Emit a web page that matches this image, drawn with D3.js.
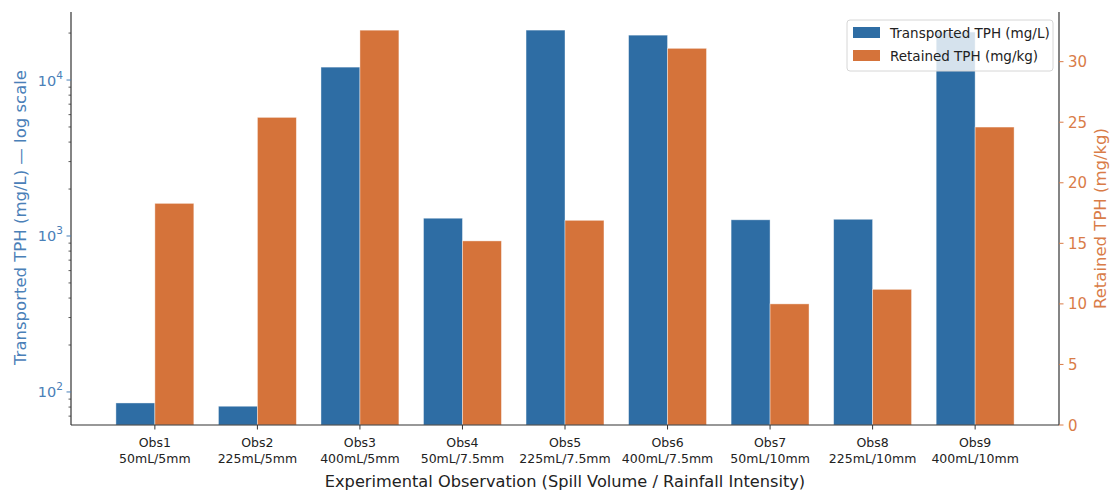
<!DOCTYPE html>
<html lang="en">
<head>
<meta charset="UTF-8">
<script src="https://d3js.org/d3.v7.min.js"></script>
<title>TPH chart</title>
<style>
  body { margin: 0; background: #fff; }
  text { font-family: "DejaVu Sans", sans-serif; }
</style>
</head>
<body>
<svg id="chart" width="1113" height="492"></svg>
<script>
// data
const obsNames = ["Obs1","Obs2","Obs3","Obs4","Obs5","Obs6","Obs7","Obs8","Obs9"];
const conditions = ["50mL/5mm","225mL/5mm","400mL/5mm","50mL/7.5mm","225mL/7.5mm","400mL/7.5mm","50mL/10mm","225mL/10mm","400mL/10mm"];
const transported = [85, 81, 12100, 1300, 20900, 19400, 1270, 1280, 20300];
const retained = [18.3, 25.4, 32.6, 15.2, 16.9, 31.1, 10.0, 11.2, 24.6];
const rightTicks = [0, 5, 10, 15, 20, 25, 30];
const leftMajor = [100, 1000, 10000];

const blue = "#2e6da4", orange = "#d5733a";
const blueTxt = "#4a80b8", orangeTxt = "#d97c48";

const svg = d3.select("#chart");
const L = 71, R = 1059, T = 12, B = 425;
const barW = 0.38;

const x = d3.scaleLinear().domain([-0.818, 8.818]).range([L, R]);
const yL = d3.scaleLog().domain([61.4, 27300]).range([B, T]);
const yR = d3.scaleLinear().domain([0, 34.1]).range([B, T]);

// bars
svg.append("g").selectAll("rect").data(transported).join("rect")
  .attr("x", (d, i) => x(i - barW))
  .attr("width", x(barW) - x(0))
  .attr("y", d => yL(d))
  .attr("height", d => B - yL(d))
  .attr("fill", blue)
  .attr("stroke", "#fff").attr("stroke-opacity", 0.5).attr("stroke-width", 0.8);

svg.append("g").selectAll("rect").data(retained).join("rect")
  .attr("x", (d, i) => x(i))
  .attr("width", x(barW) - x(0))
  .attr("y", d => yR(d))
  .attr("height", d => B - yR(d))
  .attr("fill", orange)
  .attr("stroke", "#fff").attr("stroke-opacity", 0.5).attr("stroke-width", 0.8);

// spines
const spine = "#333";
svg.append("line").attr("x1", L).attr("x2", L).attr("y1", T).attr("y2", B).attr("stroke", spine).attr("stroke-width", 1.2);
svg.append("line").attr("x1", R).attr("x2", R).attr("y1", T).attr("y2", B).attr("stroke", spine).attr("stroke-width", 1.2);
svg.append("line").attr("x1", L).attr("x2", R).attr("y1", B).attr("y2", B).attr("stroke", spine).attr("stroke-width", 1.2);

// left log ticks
const minor = [];
[10, 100, 1000, 10000].forEach(dec => {
  for (let k = 2; k <= 9; k++) {
    const v = dec * k;
    if (v >= yL.domain()[0] && v <= yL.domain()[1]) minor.push(v);
  }
});
svg.append("g").selectAll("line").data(minor).join("line")
  .attr("x1", L - 2.5).attr("x2", L)
  .attr("y1", d => yL(d)).attr("y2", d => yL(d))
  .attr("stroke", "#333").attr("stroke-width", 0.8);
svg.append("g").selectAll("line").data(leftMajor).join("line")
  .attr("x1", L - 4.5).attr("x2", L)
  .attr("y1", d => yL(d)).attr("y2", d => yL(d))
  .attr("stroke", blueTxt).attr("stroke-width", 1);
const majLab = svg.append("g").selectAll("text").data(leftMajor).join("text")
  .attr("x", L - 8).attr("y", d => yL(d) + 5.5)
  .attr("text-anchor", "end")
  .attr("fill", blueTxt)
  .attr("font-size", 14.5);
majLab.append("tspan").text("10");
majLab.append("tspan").attr("dy", -7).attr("font-size", 10.5).text(d => Math.round(Math.log10(d)));

// right ticks
svg.append("g").selectAll("line").data(rightTicks).join("line")
  .attr("x1", R).attr("x2", R + 4.5)
  .attr("y1", d => yR(d)).attr("y2", d => yR(d))
  .attr("stroke", orangeTxt).attr("stroke-width", 1);
svg.append("g").selectAll("text").data(rightTicks).join("text")
  .attr("x", R + 9).attr("y", d => yR(d) + 5.5)
  .attr("fill", orangeTxt)
  .attr("font-size", 15)
  .text(d => d);

// x ticks
svg.append("g").selectAll("line").data(obsNames).join("line")
  .attr("x1", (d, i) => x(i)).attr("x2", (d, i) => x(i))
  .attr("y1", B).attr("y2", B + 4.5)
  .attr("stroke", "#333").attr("stroke-width", 1);
const xl = svg.append("g").selectAll("text").data(obsNames).join("text")
  .attr("text-anchor", "middle")
  .attr("font-size", 12.5)
  .attr("fill", "#222");
xl.append("tspan").attr("x", (d, i) => x(i)).attr("y", 447).text(d => d);
xl.append("tspan").attr("x", (d, i) => x(i)).attr("y", 463).text((d, i) => conditions[i]);

// axis titles
svg.append("text")
  .attr("x", (L + R) / 2).attr("y", 487)
  .attr("text-anchor", "middle")
  .attr("font-size", 16.2).attr("fill", "#222")
  .text("Experimental Observation (Spill Volume / Rainfall Intensity)");
svg.append("text")
  .attr("transform", "translate(26," + ((T + B) / 2 - 1) + ") rotate(-90)")
  .attr("text-anchor", "middle")
  .attr("font-size", 16.5).attr("fill", blueTxt)
  .text("Transported TPH (mg/L) — log scale");
svg.append("text")
  .attr("transform", "translate(1106," + ((T + B) / 2) + ") rotate(-90)")
  .attr("text-anchor", "middle")
  .attr("font-size", 16.5).attr("fill", orangeTxt)
  .text("Retained TPH (mg/kg)");

// legend
const lg = svg.append("g").attr("transform", "translate(847,20)");
lg.append("rect").attr("width", 206).attr("height", 51).attr("rx", 3)
  .attr("fill", "#fff").attr("fill-opacity", 0.8)
  .attr("stroke", "#d6d6d6").attr("stroke-width", 1);
const items = [["Transported TPH (mg/L)", blue], ["Retained TPH (mg/kg)", orange]];
items.forEach((it, i) => {
  lg.append("rect").attr("x", 6).attr("y", 7 + i * 23).attr("width", 27).attr("height", 11).attr("fill", it[1]);
  lg.append("text").attr("x", 43).attr("y", 17.5 + i * 23)
    .attr("font-size", 13.5).attr("fill", "#222").text(it[0]);
});
</script>
</body>
</html>
